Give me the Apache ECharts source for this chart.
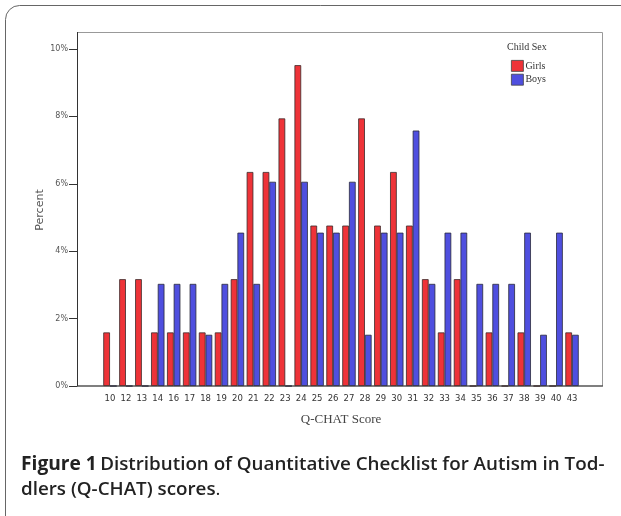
<!DOCTYPE html>
<html><head><meta charset="utf-8">
<script src="https://cdn.jsdelivr.net/npm/echarts@6/dist/echarts.min.js"></script>
<style>html,body{margin:0;padding:0;background:#fff}#c{width:621px;height:516px}</style>
</head><body><div id="c"></div>
<script>
var categories = ['10','12','13','14','16','17','18','19','20','21','22','23','24','25','26','27','28','29','30','31','32','33','34','35','36','37','38','39','40','43'];
var girls = [1.59,3.17,3.17,1.59,1.59,1.59,1.59,1.59,3.17,6.35,6.35,7.94,9.52,4.76,4.76,4.76,7.94,4.76,6.35,4.76,3.17,1.59,3.17,0,1.59,0,1.59,0,0,1.59];
var boys  = [0,0,0,3.03,3.03,3.03,1.52,3.03,4.55,3.03,6.06,0,6.06,4.55,4.55,6.06,1.52,4.55,4.55,7.58,3.03,4.55,4.55,3.03,3.03,3.03,4.55,1.52,4.55,1.52];
var yTicks = [0,2,4,6,8,10];

var chart = echarts.init(document.getElementById('c'));
var sans = 'DejaVu Sans';
var serif = 'Liberation Serif';
chart.setOption({
  animation:false,
  backgroundColor:'#fff',
  grid:{left:102,right:41,top:49,bottom:130,containLabel:false,outerBoundsMode:'none'},
  legend:{
    orient:'vertical', left:506, top:55, itemWidth:12, itemHeight:11, itemGap:2, icon:'rect',
    data:['Girls','Boys'],
    textStyle:{fontFamily:serif,fontSize:10,color:'#333',padding:[0,0,0,-3]},
    itemStyle:{borderColor:'#444',borderWidth:0.8}
  },
  xAxis:{
    type:'category', data:categories,
    axisLine:{show:false},
    axisTick:{alignWithLabel:true,length:6,lineStyle:{color:'#333'}},
    axisLabel:{fontFamily:sans,fontSize:8.5,color:'#333',margin:8,interval:0},
    name:'Q-CHAT Score', nameLocation:'middle', nameGap:27,
    nameTextStyle:{fontFamily:serif,fontSize:13,color:'#444'}
  },
  yAxis:{
    type:'value', min:0, max:10, interval:2, offset:25,
    axisLine:{show:true,lineStyle:{color:'#333'}},
    axisTick:{show:true,length:8,lineStyle:{color:'#333'}},
    axisLabel:{fontFamily:sans,fontSize:8,color:'#555',margin:9,formatter:function(v){return v+'%';}},
    splitLine:{show:false}
  },
  series:[
    {name:'Girls',type:'bar',data:girls,barCategoryGap:'16%',barGap:'0%',
     itemStyle:{color:'#EE3338',borderColor:'#3a2a2a',borderWidth:0.8}},
    {name:'Boys',type:'bar',data:boys,
     itemStyle:{color:'#4F4FDF',borderColor:'#2a2a3a',borderWidth:0.8}}
  ],
  graphic:[
    {type:'rect',silent:true,shape:{x:5.5,y:5.5,width:700,height:600,r:14},style:{fill:null,stroke:'#666',lineWidth:1}},
    {type:'rect',silent:true,shape:{x:77.5,y:32.5,width:525,height:353.5},style:{fill:null,stroke:'#999',lineWidth:1}},
    {type:'line',silent:true,shape:{x1:77,y1:386,x2:603,y2:386},style:{stroke:'#333',lineWidth:1}},
    {type:'line',silent:true,shape:{x1:77.5,y1:32,x2:77.5,y2:386},style:{stroke:'#333',lineWidth:1}},
    {type:'text',silent:true,x:40,y:210,rotation:Math.PI/2,style:{text:'Percent',fontFamily:sans,fontSize:11,fill:'#555',align:'center',verticalAlign:'middle'}},
    {type:'text',silent:true,left:507,top:42,style:{text:'Child Sex',fontFamily:serif,fontSize:10,fill:'#333'}},
    {type:'text',silent:true,left:21,top:452,style:{
      text:'{b|Figure 1} {s|Distribution of Quantitative Checklist for Autism in Tod-}\n{s|dlers (Q-CHAT) scores}{n|.}',
      lineHeight:25,
      rich:{
        b:{fontFamily:'Open Sans',fontWeight:'bold',fontSize:19.2,fill:'#222',lineHeight:25},
        s:{fontFamily:'Open Sans',fontWeight:600,fontSize:18.8,fill:'#222',lineHeight:25},
        n:{fontFamily:'Open Sans',fontWeight:'normal',fontSize:18.8,fill:'#222',lineHeight:25}
      }
    }}
  ]
});
</script></body></html>
